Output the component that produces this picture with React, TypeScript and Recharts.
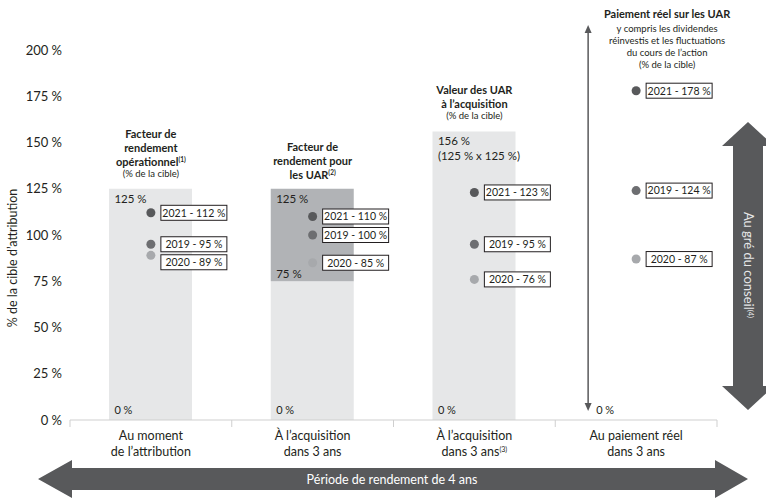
import React from 'react';
import { ComposedChart, Bar, Line, XAxis, YAxis } from 'recharts';

// ---------- data ----------
const categories = [
  'Au moment|de l’attribution',
  'À l’acquisition|dans 3 ans',
  'À l’acquisition|dans 3 ans^(3)',
  'Au paiement réel|dans 3 ans',
];
const rangeBase = [125, 75, 156, 0];
const rangeUpper = [0, 50, 0, 0];
const values2021 = [112, 110, 123, 178];
const values2019 = [95, 100, 95, 124];
const values2020 = [89, 85, 76, 87];
const yTicks = [0, 25, 50, 75, 100, 125, 150, 175, 200];

const titleLines = [
  ['Facteur de', 'rendement', 'opérationnel^(1)'],
  ['Facteur de', 'rendement pour', 'les UAR^(2)'],
  ['Valeur des UAR', 'à l’acquisition'],
  ['Paiement réel sur les UAR'],
];
const subtitleLines = [
  ['(% de la cible)'],
  [],
  ['(% de la cible)'],
  ['y compris les dividendes', 'réinvestis et les fluctuations', 'du cours de l’action', '(% de la cible)'],
];
const topLabels = [['125 %'], ['125 %'], ['156 %', '(125 % x 125 %)'], []];
const midLabels = ['', '75 %', '', ''];
const baseLabels = ['0 %', '0 %', '0 %', '0 %'];

const yAxisTitle = '% de la cible d’attribution';
const periodLabel = 'Période de rendement de 4 ans';
const boardLabel = 'Au gré du conseil';
const boardNote = '(4)';

const series = [
  { key: 'y2021', year: '2021', color: '#58595b' },
  { key: 'y2019', year: '2019', color: '#6d6e71' },
  { key: 'y2020', year: '2020', color: '#a7a9ac' },
];

const data = categories.map((name, i) => ({
  name,
  base: rangeBase[i],
  upper: rangeUpper[i],
  top: rangeBase[i] + rangeUpper[i],
  y2021: values2021[i],
  y2019: values2019[i],
  y2020: values2020[i],
}));

// ---------- layout ----------
const W = 766;
const H = 498;
const PLOT_TOP = 50;
const PLOT_BOTTOM = 420;
const PLOT_LEFT = 70;
const PLOT_RIGHT = 717;
const BAR_SIZE = 83;
const FONT = 'Lato, "Open Sans", sans-serif';
const TEXT = '#231f20';
const DARK = '#58595b';
const BOX_W = 66;
const BOX_H = 15;
const GAP = 18;

function renderWithSup(str: string, supSize: number) {
  const parts = str.split('^');
  if (parts.length === 1) return str;
  return [
    <tspan key="a">{parts[0]}</tspan>,
    <tspan key="b" fontSize={supSize} dy={-4}>{parts[1]}</tspan>,
  ];
}

function AnnotationDot(props: any) {
  const { cx, cy, index, payload } = props;
  if (cx == null || cy == null) return <g key={`ann-${index}`} />;
  const titles = titleLines[index] || [];
  const subs = subtitleLines[index] || [];
  const hasBar = payload.top > 0;
  const out: any[] = [];
  if (hasBar) {
    const left = cx - BAR_SIZE / 2 + 1;
    const ppu = (PLOT_BOTTOM - cy) / payload.top;
    const subBottom = cy - 12;
    subs.slice().reverse().forEach((s, k) => {
      out.push(
        <text key={`s${k}`} x={cx} y={subBottom - k * 12} textAnchor="middle" fontSize={9.5} fill={TEXT}>{s}</text>
      );
    });
    const lastTitle = subs.length ? subBottom - (subs.length - 1) * 12 - 11 : cy - 10;
    titles.slice().reverse().forEach((t, k) => {
      out.push(
        <text key={`t${k}`} x={cx} y={lastTitle - k * 14} textAnchor="middle" fontSize={11} fontWeight={700} fill={TEXT}>
          {renderWithSup(t, 6.5)}
        </text>
      );
    });
    (topLabels[index] || []).forEach((t, k) => {
      out.push(
        <text key={`tl${k}`} x={left + 4} y={cy + 14 + k * 15} fontSize={11.5} fill={TEXT}>{t}</text>
      );
    });
    if (midLabels[index]) {
      const ym = PLOT_BOTTOM - payload.base * ppu;
      out.push(
        <text key="mid" x={left + 4} y={ym - 3} fontSize={11.5} fill={TEXT}>{midLabels[index]}</text>
      );
    }
    out.push(
      <text key="zero" x={left + 4} y={PLOT_BOTTOM - 6} fontSize={11} fill={TEXT}>{baseLabels[index]}</text>
    );
  } else {
    const tx = cx + 31;
    titles.forEach((t, k) => {
      out.push(
        <text key={`t${k}`} x={tx} y={18 + k * 14} textAnchor="middle" fontSize={11} fontWeight={700} fill={TEXT}>{renderWithSup(t, 6.5)}</text>
      );
    });
    subs.forEach((s, k) => {
      out.push(
        <text key={`s${k}`} x={tx} y={32 + k * 12} textAnchor="middle" fontSize={9.5} fill={TEXT}>{s}</text>
      );
    });
    const ax = cx - 48;
    out.push(
      <line key="al" x1={ax} y1={30} x2={ax} y2={PLOT_BOTTOM - 12} stroke={DARK} strokeWidth={1.5} />,
      <polygon key="at" points={`${ax},25 ${ax - 3.5},33 ${ax + 3.5},33`} fill={DARK} />,
      <polygon key="ab" points={`${ax},${PLOT_BOTTOM - 9} ${ax - 3.5},${PLOT_BOTTOM - 17} ${ax + 3.5},${PLOT_BOTTOM - 17}`} fill={DARK} />,
      <text key="zero" x={ax + 8} y={PLOT_BOTTOM - 6} fontSize={11} fill={TEXT}>{baseLabels[index]}</text>
    );
  }
  return <g key={`ann-${index}`}>{out}</g>;
}

const makeYearDot = (key: string, year: string, color: string) => (props: any) => {
  const { cx, cy, payload, value, index } = props;
  if (cx == null || cy == null) return <g key={`${key}-${index}`} />;
  const ppu = (PLOT_BOTTOM - cy) / value;
  const entries = series
    .map((s) => ({ key: s.key, py: PLOT_BOTTOM - payload[s.key] * ppu }))
    .sort((a, b) => a.py - b.py);
  let prev = -Infinity;
  let pos = cy;
  for (const e of entries) {
    const p = Math.max(e.py, prev + GAP);
    if (e.key === key) pos = p;
    prev = p;
  }
  const bx = cx + 10;
  return (
    <g key={`${key}-${index}`}>
      <circle cx={cx} cy={cy} r={4.5} fill={color} />
      <rect x={bx} y={pos - BOX_H / 2} width={BOX_W} height={BOX_H} fill="#fff" stroke={TEXT} strokeWidth={1} />
      <text x={bx + BOX_W / 2} y={pos + 3.8} textAnchor="middle" fontSize={10.5} fill={TEXT}>
        {`${year} - ${value} %`}
      </text>
    </g>
  );
};

function CategoryTick(props: any) {
  const { x, y, payload, index } = props;
  const half = payload && payload.offset ? payload.offset : (PLOT_RIGHT - PLOT_LEFT) / categories.length / 2;
  const axisY = y - 8;
  const lines = String(payload.value).split('|');
  return (
    <g>
      <line x1={x - half} y1={axisY} x2={x - half} y2={axisY + 7} stroke="#cfcfcf" strokeWidth={1} />
      {index === categories.length - 1 && (
        <line x1={x + half} y1={axisY} x2={x + half} y2={axisY + 7} stroke="#cfcfcf" strokeWidth={1} />
      )}
      {lines.map((l, k) => (
        <text key={k} x={x} y={y + 12 + k * 16} textAnchor="middle" fontSize={12.5} fill={TEXT}>
          {renderWithSup(l, 7)}
        </text>
      ))}
    </g>
  );
}

export default function App() {
  return (
    <div style={{ position: 'absolute', left: 0, top: 0, width: W, height: H, fontFamily: FONT, background: '#fff' }}>
      <ComposedChart
        width={W}
        height={H}
        data={data}
        margin={{ top: PLOT_TOP, right: W - PLOT_RIGHT, bottom: 0, left: 0 }}
        style={{ fontFamily: FONT }}
      >
        <XAxis
          dataKey="name"
          interval={0}
          tickLine={false}
          axisLine={{ stroke: '#cfcfcf' }}
          tick={<CategoryTick />}
          height={H - PLOT_BOTTOM}
        />
        <YAxis
          domain={[0, 200]}
          ticks={yTicks}
          tickFormatter={(v: number) => `${v} %`}
          axisLine={false}
          tickLine={false}
          width={PLOT_LEFT}
          tick={{ fontSize: 13, fill: TEXT, fontFamily: FONT }}
        />
        <Bar dataKey="base" stackId="r" fill="#e6e7e8" barSize={BAR_SIZE} isAnimationActive={false} />
        <Bar dataKey="upper" stackId="r" fill="#b1b3b6" barSize={BAR_SIZE} isAnimationActive={false} />
        <Line dataKey="top" stroke="none" dot={AnnotationDot} activeDot={false} isAnimationActive={false} />
        {series.map((s) => (
          <Line
            key={s.key}
            dataKey={s.key}
            stroke="none"
            dot={makeYearDot(s.key, s.year, s.color)}
            activeDot={false}
            isAnimationActive={false}
          />
        ))}
      </ComposedChart>
      <svg
        width={W}
        height={H}
        style={{ position: 'absolute', left: 0, top: 0, pointerEvents: 'none', fontFamily: FONT }}
      >
        <text x={12} y={258} transform="rotate(-90 12 258)" textAnchor="middle" dy={4.5} fontSize={12.5} fill={TEXT}>
          {yAxisTitle}
        </text>
        <polygon
          points="38,479 72,460 72,468 715,468 715,460 748,479 715,498 715,490 72,490 72,498"
          fill={DARK}
        />
        <text x={392} y={483.5} textAnchor="middle" fontSize={12.5} fill="#ffffff">{periodLabel}</text>
        <polygon
          points="748,122 774,146 763,146 763,386 774,386 748,410 722,386 733,386 733,146 722,146"
          fill={DARK}
        />
        <text x={748} y={265} transform="rotate(90 748 265)" textAnchor="middle" dy={4.5} fontSize={13} fill="#e6e7e8">
          {boardLabel}
          <tspan fontSize={7.5} dy={-4}>{boardNote}</tspan>
        </text>
      </svg>
    </div>
  );
}
